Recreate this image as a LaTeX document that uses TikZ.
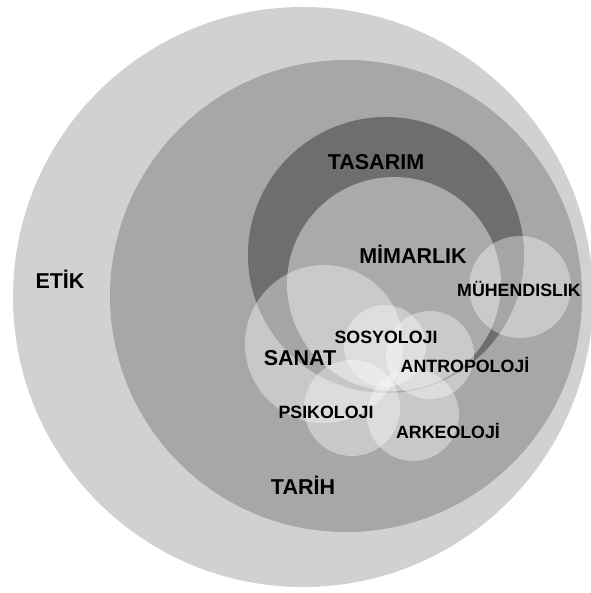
\documentclass[tikz,border=0pt]{standalone}
\usepackage{fontspec}
\setmainfont{Liberation Sans}
\usepackage{xcolor}
\usepackage{tikz}

\definecolor{etikgray}{RGB}{209,209,209}
\definecolor{tarihgray}{RGB}{167,167,167}
\definecolor{tasarimgray}{RGB}{110,110,110}
\definecolor{mimarlikgray}{RGB}{170,170,170}

\begin{document}
\begin{tikzpicture}[x=1pt, y=-1pt,
  field/.style={font=\bfseries\fontsize{21.5}{24}\selectfont, anchor=base, inner sep=0pt},
  subfield/.style={font=\bfseries\fontsize{17.8}{20}\selectfont, anchor=base, inner sep=0pt},
  veil/.style={fill=white, fill opacity=0.38}]
  \useasboundingbox (0,0) rectangle (590,593);
  % nested fields
  \fill[etikgray] (303,297) circle[radius=290];
  \fill[tarihgray] (346,296) circle[radius=236];
  \fill[tasarimgray] (386,255) circle[radius=138];
  \fill[mimarlikgray] (394,284) circle[radius=107];
  % overlapping disciplines
  \fill[veil] (520,287) circle[radius=51];
  \fill[veil] (324,344) circle[radius=79];
  \fill[veil] (385,346) circle[radius=41];
  \fill[veil] (430,355) circle[radius=44];
  \fill[veil] (352,408) circle[radius=48];
  \fill[veil] (413,415) circle[radius=46];
  % labels
  \node[field] (etik) at (60,288) {ETİK};
  \node[field] (tasarim) at (376,170) {TASARIM};
  \node[field] (mimarlik) at (413,263) {MİMARLIK};
  \node[subfield] (muhendislik) at (519,296) {MÜHENDISLIK};
  \node[field] (sanat) at (300,365) {SANAT};
  \node[subfield] (sosyoloji) at (386,343) {SOSYOLOJI};
  \node[subfield] (antropoloji) at (465,372) {ANTROPOLOJİ};
  \node[subfield] (psikoloji) at (326,418) {PSIKOLOJI};
  \node[subfield] (arkeoloji) at (448,438) {ARKEOLOJİ};
  \node[field] (tarih) at (303,494) {TARİH};
\end{tikzpicture}
\end{document}
